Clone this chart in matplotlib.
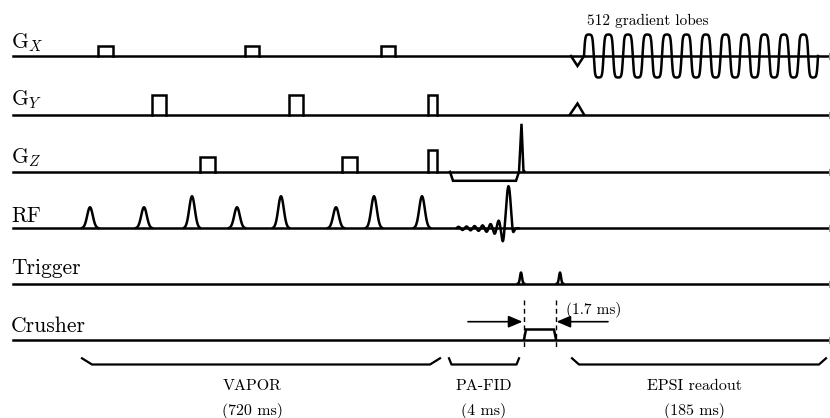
import numpy as np
import matplotlib.pyplot as plt

plt.rcParams['font.family'] = ['cmr10', 'DejaVu Serif']
plt.rcParams['mathtext.fontset'] = 'cm'
plt.rcParams['axes.unicode_minus'] = False

# channel rows (y of each baseline, in pixel units of the 830x418 canvas)
channels = [r'$\mathrm{G}_X$', r'$\mathrm{G}_Y$', r'$\mathrm{G}_Z$', 'RF', 'Trigger', 'Crusher']
baselines = [56, 114.5, 171.8, 228.3, 283.6, 339.5]
label_lift = [8, 9, 8.5, 6.8, 9.8, 7.7]

# VAPOR gradient spoilers: start, end, amplitude
gx_start, gx_end, gx_amp = [98, 245, 381], [113, 259, 395], [10, 10, 10]
gy_start, gy_end, gy_amp = [152, 289, 428], [166, 303, 437], [20, 20, 20]
gz_start, gz_end, gz_amp = [200, 342, 428], [215, 357, 437], [15, 15, 22]

# VAPOR RF pulses
rf_center = [90, 144, 192, 237, 281, 336, 374, 422]
rf_amp = [21, 21, 32, 21, 32, 21, 32, 32]

# PA-FID block
fid_start, fid_peak, fid_end, fid_amp, fid_lobe = 457, 508.5, 518.5, 42, 4.0
gz_neg_start, gz_neg_end, gz_neg_amp = 450, 519, -9
gz_spike_pos, gz_spike_amp = 521.5, 48
trig_pos, trig_amp = [521, 560], 11
crush_start, crush_end, crush_amp = 524, 556, 10

# EPSI readout
pre_start, pre_end = 571, 584
gx_pre_amp, gy_pre_amp = -10, 11
epsi_start, epsi_period, epsi_lobes, epsi_amp = 584, 19.5, 12, 21.5

# sections below the diagram
sec_start = [82, 449, 572]
sec_end = [440, 519, 826]
sec_bend = [10, 2.5, 7]
sec_name = ['VAPOR', 'PA-FID', 'EPSI readout']
sec_time = ['(720 ms)', '(4 ms)', '(185 ms)']
sec_text_x = [252, 484, 694]

fig = plt.figure(figsize=(8.3, 4.18), dpi=100)
ax = fig.add_axes([0, 0, 1, 1])
ax.set_xlim(0, 830)
ax.set_ylim(418, 0)
ax.axis('off')

lw = 1.8
kw = dict(color='black', lw=lw, solid_joinstyle='miter')


def draw(row, x, y):
    ax.plot(x, baselines[row] - np.asarray(y), **kw)


def boxes(row, starts, ends, amps):
    for x0, x1, a in zip(starts, ends, amps):
        draw(row, [x0, x0, x1, x1], [0, a, a, 0])


def bumps(row, centers, amps, sigma, half):
    for c, a in zip(centers, amps):
        t = np.linspace(-half, half, 80)
        draw(row, c + t, a * np.exp(-t ** 2 / (2 * sigma ** 2)))


# baselines and labels
for i, (name, yb) in enumerate(zip(channels, baselines)):
    ax.plot([13, 828], [yb, yb], **kw)
    ax.plot([829, 829], [yb - 3, yb + 3], color='0.6', lw=0.8)
    ax.text(11, yb - label_lift[i], name, fontsize=15.5, va='baseline', ha='left')

boxes(0, gx_start, gx_end, gx_amp)
boxes(1, gy_start, gy_end, gy_amp)
boxes(2, gz_start, gz_end, gz_amp)
bumps(3, rf_center, rf_amp, 2.8, 8)

# PA-FID
draw(2, [gz_neg_start, gz_neg_start + 3, gz_neg_end - 3, gz_neg_end,
         gz_spike_pos, gz_spike_pos + 2, gz_spike_pos + 3],
     [0, gz_neg_amp, gz_neg_amp, 0, gz_spike_amp, 0, 0])
t = np.linspace(fid_start, fid_end, 600)
u = (t - fid_peak) / fid_lobe
env = np.where(u > 1, np.exp(-3 * (u - 1)), np.where(u < -1, 1.4, 1.0))
draw(3, t, fid_amp * np.sinc(u) * env)
bumps(4, trig_pos, [trig_amp] * len(trig_pos), 1.0, 3)
draw(5, [crush_start, crush_start + 2, crush_end - 2, crush_end],
     [0, crush_amp, crush_amp, 0])

# EPSI readout
mid = (pre_start + pre_end) / 2
draw(0, [pre_start, mid, pre_end], [0, gx_pre_amp, 0])
draw(1, [pre_start - 1, mid, pre_end], [0, gy_pre_amp, 0])
t = np.linspace(epsi_start, epsi_start + epsi_lobes * epsi_period, 2000)
wave = np.tanh(2.6 * np.sin(2 * np.pi * (t - epsi_start) / epsi_period)) / np.tanh(2.6)
draw(0, t, epsi_amp * wave)
ax.text(587, 25, '512 gradient lobes', fontsize=11, va='baseline', ha='left')

# crusher timing marks
for xm in [crush_start, crush_end]:
    ax.plot([xm, xm], [300, 348.5], color='black', lw=1.0, linestyle=(0, (3.5, 2.5)))
ax.annotate('', xy=(crush_start - 1.5, 321.7), xytext=(468, 321.7),
            arrowprops=dict(arrowstyle='-|>,head_length=0.85,head_width=0.36',
                            mutation_scale=10, color='black', lw=1.2,
                            shrinkA=0, shrinkB=0))
ax.annotate('', xy=(crush_end + 0.5, 321.7), xytext=(608, 321.7),
            arrowprops=dict(arrowstyle='-|>,head_length=0.85,head_width=0.36',
                            mutation_scale=10, color='black', lw=1.2,
                            shrinkA=0, shrinkB=0))
ax.text(566, 313.5, '(1.7 ms)', fontsize=11, va='baseline', ha='left')

# section brackets
for x0, x1, b, name, tm, xt in zip(sec_start, sec_end, sec_bend, sec_name, sec_time, sec_text_x):
    ax.plot([x0, x0 + b, x1 - b, x1], [358.3, 364.5, 364.5, 358.3],
            color='black', lw=1.6, solid_joinstyle='round')
    ax.text(xt, 389.5, name, fontsize=11.5, va='baseline', ha='center')
    ax.text(xt, 415, tm, fontsize=11.5, va='baseline', ha='center')

fig.savefig('out.png', dpi=100)
